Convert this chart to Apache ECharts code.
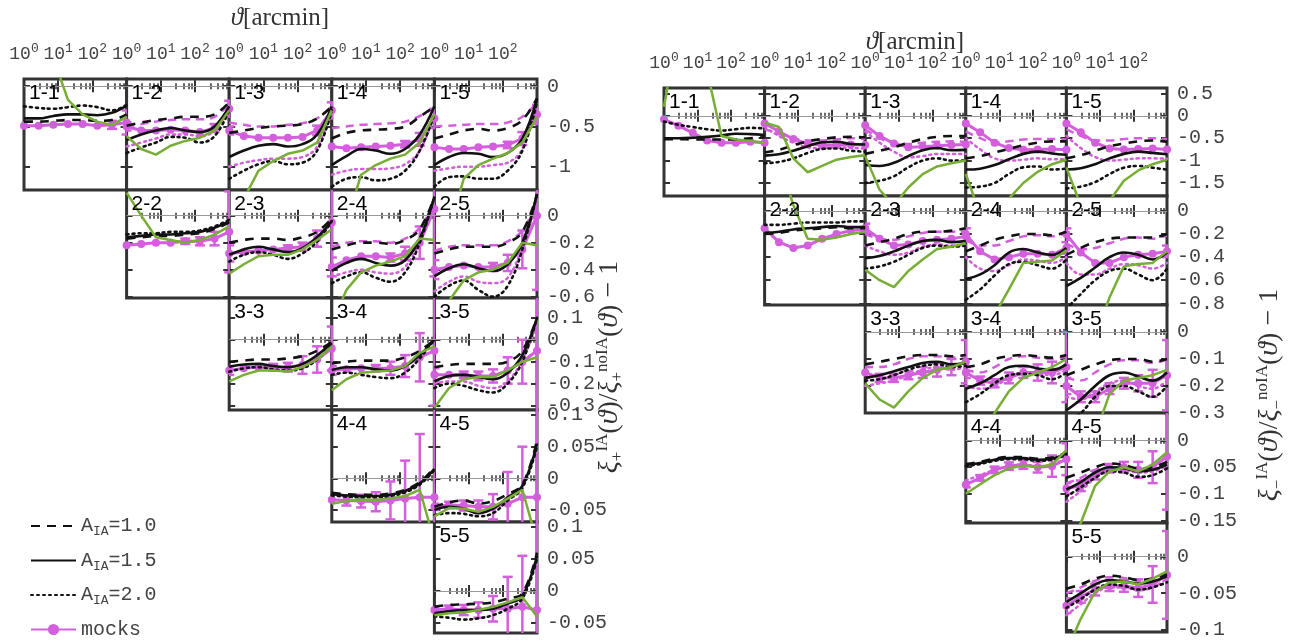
<!DOCTYPE html>
<html><head><meta charset="utf-8">
<script src="https://cdn.jsdelivr.net/npm/echarts@6/dist/echarts.min.js"></script>
<style>html,body{margin:0;padding:0;background:#fff}#c{width:1301px;height:644px}</style>
</head><body><div id="c"></div>
<script>
// ---------------- DATA ----------------
const theta = [1, 2.68, 7.2, 19.3, 51.8, 139, 373, 1000];
const xTickValues = [1, 10, 100];
const leftYTicks = [[0,-0.5,-1],[0,-0.2,-0.4,-0.6],[0.1,0,-0.1,-0.2,-0.3],[0.1,0.05,0,-0.05],[0.1,0.05,0,-0.05]];
const rightYTicks = [[0.5,0,-0.5,-1,-1.5],[0,-0.2,-0.4,-0.6,-0.8],[0,-0.1,-0.2,-0.3],[0,-0.05,-0.1,-0.15],[0,-0.05,-0.1]];
const leftYRange = [[-1.29,0.09],[-0.61,0.19],[-0.32,0.19],[-0.069,0.108],[-0.066,0.108]];
const rightYRange = [[-1.79,0.62],[-0.815,0.13],[-0.3,0.1],[-0.155,0.052],[-0.103,0.046]];
const legendNames = ['A_IA=1.0','A_IA=1.5','A_IA=2.0','mocks'];

// panel order: 1-1,1-2,1-3,1-4,1-5,2-2,2-3,2-4,2-5,3-3,3-4,3-5,4-4,4-5,5-5
const leftDash = [
 [-0.44,-0.44,-0.43,-0.42,-0.42,-0.43,-0.42,-0.35],
 [-0.49,-0.45,-0.42,-0.40,-0.38,-0.38,-0.35,-0.2],
 [-0.58,-0.55,-0.52,-0.5,-0.49,-0.47,-0.40,-0.25],
 [-0.65,-0.58,-0.55,-0.54,-0.53,-0.5,-0.38,-0.25],
 [-0.65,-0.6,-0.55,-0.53,-0.55,-0.52,-0.42,-0.15],
 [-0.17,-0.16,-0.15,-0.15,-0.14,-0.13,-0.10,-0.05],
 [-0.2,-0.18,-0.17,-0.17,-0.18,-0.16,-0.12,-0.02],
 [-0.25,-0.22,-0.2,-0.2,-0.21,-0.18,-0.1,0.14],
 [-0.28,-0.25,-0.23,-0.23,-0.23,-0.2,-0.12,0.16],
 [-0.1,-0.095,-0.09,-0.09,-0.085,-0.075,-0.05,-0.01],
 [-0.108,-0.1,-0.095,-0.095,-0.095,-0.08,-0.05,0.0],
 [-0.125,-0.115,-0.11,-0.11,-0.11,-0.1,-0.05,0.1],
 [-0.023,-0.025,-0.026,-0.026,-0.024,-0.018,-0.006,0.017],
 [-0.045,-0.038,-0.035,-0.04,-0.036,-0.025,-0.01,0.06],
 [-0.025,-0.022,-0.021,-0.02,-0.018,-0.012,-0.004,0.06]
];
const leftSolid = [
 [-0.40,-0.40,-0.37,-0.35,-0.35,-0.36,-0.33,-0.24],
 [-0.67,-0.6,-0.55,-0.52,-0.55,-0.57,-0.5,-0.25],
 [-0.88,-0.8,-0.74,-0.72,-0.75,-0.72,-0.6,-0.25],
 [-0.98,-0.87,-0.78,-0.8,-0.84,-0.78,-0.6,-0.25],
 [-0.98,-0.88,-0.83,-0.84,-0.88,-0.83,-0.65,-0.15],
 [-0.16,-0.15,-0.14,-0.14,-0.13,-0.12,-0.09,-0.04],
 [-0.29,-0.25,-0.23,-0.25,-0.27,-0.24,-0.16,-0.04],
 [-0.41,-0.35,-0.32,-0.35,-0.37,-0.33,-0.17,0.14],
 [-0.45,-0.39,-0.36,-0.39,-0.41,-0.36,-0.2,0.16],
 [-0.123,-0.113,-0.11,-0.12,-0.125,-0.11,-0.07,-0.015],
 [-0.138,-0.125,-0.125,-0.135,-0.14,-0.12,-0.07,0.0],
 [-0.19,-0.165,-0.16,-0.17,-0.18,-0.15,-0.07,0.1],
 [-0.025,-0.027,-0.028,-0.028,-0.026,-0.02,-0.008,0.015],
 [-0.05,-0.045,-0.048,-0.055,-0.048,-0.03,-0.012,0.055],
 [-0.035,-0.032,-0.03,-0.03,-0.028,-0.02,-0.008,0.055]
];
const leftDot = [
 [-0.25,-0.27,-0.28,-0.26,-0.24,-0.26,-0.3,-0.23],
 [-0.83,-0.76,-0.7,-0.63,-0.64,-0.7,-0.62,-0.3],
 [-1.15,-1.05,-0.97,-0.93,-0.97,-0.95,-0.8,-0.3],
 [-1.25,-1.15,-1.13,-1.17,-1.15,-1.05,-0.8,-0.35],
 [-1.25,-1.13,-1.12,-1.15,-1.15,-1.05,-0.8,-0.2],
 [-0.14,-0.13,-0.13,-0.12,-0.12,-0.11,-0.08,-0.03],
 [-0.34,-0.29,-0.27,-0.29,-0.32,-0.28,-0.19,-0.04],
 [-0.5,-0.45,-0.42,-0.46,-0.49,-0.42,-0.2,0.14],
 [-0.6,-0.52,-0.48,-0.55,-0.6,-0.52,-0.25,0.16],
 [-0.146,-0.13,-0.125,-0.135,-0.14,-0.13,-0.09,-0.02],
 [-0.16,-0.15,-0.16,-0.17,-0.175,-0.15,-0.085,0.0],
 [-0.22,-0.2,-0.21,-0.23,-0.24,-0.2,-0.1,0.1],
 [-0.027,-0.029,-0.03,-0.03,-0.028,-0.022,-0.01,0.013],
 [-0.058,-0.055,-0.056,-0.06,-0.055,-0.035,-0.015,0.05],
 [-0.04,-0.042,-0.045,-0.043,-0.038,-0.028,-0.012,0.05]
];
const leftMock = [
 [-0.49,-0.49,-0.48,-0.47,-0.47,-0.49,-0.48,-0.45],
 [-0.5,-0.55,-0.55,-0.54,-0.55,-0.57,-0.52,-0.28],
 [-0.55,-0.62,-0.64,-0.64,-0.64,-0.63,-0.55,-0.3],
 [-0.75,-0.77,-0.76,-0.75,-0.74,-0.72,-0.66,-0.4],
 [-0.76,-0.78,-0.78,-0.76,-0.75,-0.73,-0.65,-0.35],
 [-0.22,-0.21,-0.2,-0.2,-0.19,-0.19,-0.17,-0.12],
 [-0.28,-0.27,-0.26,-0.25,-0.24,-0.23,-0.17,-0.05],
 [-0.38,-0.33,-0.3,-0.3,-0.31,-0.28,-0.2,0.05],
 [-0.4,-0.38,-0.37,-0.38,-0.38,-0.35,-0.25,0.0],
 [-0.14,-0.13,-0.125,-0.125,-0.125,-0.115,-0.09,-0.04],
 [-0.14,-0.135,-0.13,-0.13,-0.13,-0.12,-0.08,-0.05],
 [-0.16,-0.16,-0.16,-0.165,-0.165,-0.14,-0.1,-0.05],
 [-0.034,-0.035,-0.036,-0.037,-0.035,-0.032,-0.03,-0.03],
 [-0.045,-0.042,-0.043,-0.045,-0.045,-0.04,-0.03,-0.03],
 [-0.03,-0.028,-0.03,-0.03,-0.028,-0.028,-0.025,-0.03]
];
const leftErr = [
 [0,0,0,0,0,0,0.05,0.15],
 [0.05,0,0,0,0,0,0.05,0.1],
 [0.05,0,0,0,0,0,0.06,0.1],
 [0,0,0,0,0,0.04,0.08,0.12],
 [0,0,0,0,0,0.04,0.08,0.12],
 [0,0,0,0,0.02,0.03,0.05,0.3],
 [0.06,0,0,0,0.02,0.03,0.06,0.4],
 [0.07,0,0,0,0.03,0.05,0.12,0.5],
 [0.07,0,0,0,0.03,0.06,0.14,0.55],
 [0.02,0,0,0.015,0.02,0.04,0.06,0.1],
 [0.02,0,0,0.015,0.03,0.05,0.11,0.25],
 [0.03,0,0.015,0.02,0.03,0.06,0.1,0.35],
 [0,0.008,0.01,0.015,0.03,0.06,0.1,0.15],
 [0.005,0.005,0.008,0.01,0.02,0.05,0.08,0.14],
 [0.004,0.005,0.008,0.012,0.02,0.05,0.08,0.15]
];
const leftMockDash = [
 null,
 [-0.5,-0.47,-0.44,-0.42,-0.41,-0.41,-0.38,-0.22],
 [-0.45,-0.48,-0.5,-0.5,-0.48,-0.46,-0.4,-0.25],
 [-0.52,-0.5,-0.48,-0.47,-0.46,-0.44,-0.37,-0.27],
 [-0.5,-0.49,-0.48,-0.47,-0.47,-0.45,-0.38,-0.2],
 null, null,
 [-0.23,-0.2,-0.19,-0.19,-0.2,-0.17,-0.09,0.1],
 [-0.26,-0.23,-0.22,-0.22,-0.22,-0.19,-0.11,0.1],
 null, null, null, null, null, null
];
const leftMockDot = [
 null,
 [-0.75,-0.7,-0.65,-0.6,-0.6,-0.62,-0.55,-0.28],
 [-1.0,-0.95,-0.92,-0.9,-0.9,-0.88,-0.75,-0.3],
 [-1.1,-1.05,-1.03,-1.03,-1.02,-0.97,-0.8,-0.35],
 [-1.05,-1.02,-1.0,-1.0,-0.98,-0.95,-0.78,-0.2],
 null, null,
 [-0.45,-0.42,-0.4,-0.42,-0.43,-0.38,-0.18,0.1],
 [-0.56,-0.49,-0.45,-0.49,-0.5,-0.46,-0.23,0.1],
 null, null,
 [-0.2,-0.19,-0.19,-0.21,-0.22,-0.19,-0.09,0.07],
 null, null, null
];
const leftGreen = [
 [3,1.2,0.35,-0.17,-0.35,-0.44,-0.48,-0.38],
 [-0.62,-0.78,-0.85,-0.74,-0.68,-0.64,-0.55,-0.3],
 [-2.0,-1.4,-1.05,-0.93,-0.84,-0.8,-0.7,-0.3],
 [-2,-1.7,-1.1,-0.98,-0.9,-0.85,-0.7,-0.35],
 [-2,-1.8,-1.15,-0.98,-0.9,-0.83,-0.7,-0.38],
 [0.17,0.0,-0.16,-0.18,-0.2,-0.18,-0.14,-0.08],
 [-0.43,-0.36,-0.3,-0.29,-0.29,-0.25,-0.18,-0.1],
 [-0.8,-0.55,-0.42,-0.37,-0.34,-0.3,-0.17,-0.18],
 [-0.9,-0.63,-0.48,-0.42,-0.4,-0.35,-0.2,-0.22],
 [-0.19,-0.16,-0.14,-0.14,-0.145,-0.125,-0.09,-0.03],
 [-0.23,-0.18,-0.15,-0.145,-0.14,-0.12,-0.06,-0.03],
 [-0.31,-0.22,-0.18,-0.17,-0.17,-0.14,-0.1,-0.08],
 [-0.04,-0.036,-0.034,-0.034,-0.032,-0.028,-0.018,-0.1],
 [-0.06,-0.047,-0.048,-0.053,-0.045,-0.032,-0.018,-0.1],
 [-0.038,-0.035,-0.034,-0.03,-0.025,-0.018,-0.01,-0.04]
];

const rightDash = [
 [-0.52,-0.52,-0.53,-0.53,-0.53,-0.53,-0.5,-0.48],
 [-0.82,-0.76,-0.66,-0.57,-0.52,-0.48,-0.47,-0.48],
 [-0.85,-0.78,-0.7,-0.6,-0.52,-0.47,-0.45,-0.45],
 [-0.95,-0.9,-0.82,-0.74,-0.66,-0.6,-0.57,-0.57],
 [-0.95,-0.88,-0.78,-0.68,-0.62,-0.57,-0.55,-0.58],
 [-0.2,-0.19,-0.17,-0.16,-0.15,-0.14,-0.15,-0.15],
 [-0.3,-0.27,-0.24,-0.2,-0.18,-0.18,-0.17,-0.15],
 [-0.35,-0.3,-0.25,-0.22,-0.2,-0.2,-0.21,-0.18],
 [-0.38,-0.32,-0.27,-0.24,-0.23,-0.23,-0.23,-0.2],
 [-0.12,-0.11,-0.1,-0.09,-0.085,-0.085,-0.09,-0.085],
 [-0.13,-0.12,-0.1,-0.09,-0.085,-0.09,-0.095,-0.085],
 [-0.16,-0.14,-0.12,-0.105,-0.1,-0.1,-0.11,-0.1],
 [-0.044,-0.04,-0.034,-0.031,-0.031,-0.034,-0.032,-0.022],
 [-0.07,-0.06,-0.05,-0.043,-0.046,-0.052,-0.05,-0.04],
 [-0.044,-0.038,-0.03,-0.026,-0.028,-0.032,-0.03,-0.024]
];
const rightSolid = [
 [-0.5,-0.5,-0.49,-0.47,-0.44,-0.4,-0.41,-0.43],
 [-0.89,-0.86,-0.78,-0.68,-0.59,-0.58,-0.63,-0.64],
 [-1.1,-1.12,-1.05,-0.9,-0.77,-0.72,-0.77,-0.76],
 [-1.2,-1.18,-1.1,-0.97,-0.85,-0.8,-0.84,-0.87],
 [-1.2,-1.17,-1.08,-0.95,-0.85,-0.8,-0.83,-0.86],
 [-0.19,-0.18,-0.16,-0.15,-0.14,-0.13,-0.14,-0.14],
 [-0.41,-0.39,-0.35,-0.3,-0.26,-0.25,-0.27,-0.26],
 [-0.59,-0.55,-0.47,-0.36,-0.33,-0.36,-0.38,-0.32],
 [-0.65,-0.58,-0.49,-0.4,-0.36,-0.38,-0.42,-0.36],
 [-0.17,-0.16,-0.145,-0.13,-0.115,-0.11,-0.12,-0.115],
 [-0.21,-0.19,-0.16,-0.13,-0.125,-0.135,-0.14,-0.12],
 [-0.29,-0.25,-0.2,-0.16,-0.15,-0.165,-0.18,-0.15],
 [-0.046,-0.042,-0.036,-0.033,-0.033,-0.036,-0.034,-0.024],
 [-0.092,-0.078,-0.06,-0.05,-0.052,-0.058,-0.055,-0.045],
 [-0.062,-0.05,-0.038,-0.032,-0.034,-0.037,-0.034,-0.027]
];
const rightDot = [
 [-0.13,-0.2,-0.25,-0.3,-0.33,-0.3,-0.27,-0.28],
 [-1.06,-1.03,-0.95,-0.83,-0.74,-0.73,-0.78,-0.8],
 [-1.5,-1.45,-1.35,-1.15,-1.0,-0.95,-1.0,-1.0],
 [-1.6,-1.58,-1.5,-1.3,-1.15,-1.13,-1.2,-1.18],
 [-1.62,-1.58,-1.48,-1.3,-1.16,-1.12,-1.16,-1.2],
 [-0.12,-0.12,-0.11,-0.1,-0.1,-0.1,-0.09,-0.09],
 [-0.5,-0.48,-0.44,-0.38,-0.32,-0.3,-0.31,-0.3],
 [-0.77,-0.68,-0.56,-0.46,-0.44,-0.47,-0.5,-0.42],
 [-0.85,-0.72,-0.6,-0.52,-0.5,-0.55,-0.6,-0.5],
 [-0.18,-0.175,-0.16,-0.14,-0.125,-0.12,-0.13,-0.125],
 [-0.26,-0.23,-0.19,-0.16,-0.155,-0.16,-0.175,-0.15],
 [-0.33,-0.3,-0.24,-0.2,-0.2,-0.22,-0.24,-0.2],
 [-0.048,-0.044,-0.038,-0.035,-0.035,-0.038,-0.036,-0.026],
 [-0.105,-0.088,-0.07,-0.058,-0.06,-0.068,-0.065,-0.052],
 [-0.07,-0.058,-0.045,-0.038,-0.04,-0.045,-0.042,-0.035]
];
const rightMock = [
 [-0.08,-0.22,-0.38,-0.55,-0.6,-0.6,-0.58,-0.6],
 [-0.17,-0.35,-0.52,-0.62,-0.66,-0.66,-0.64,-0.65],
 [-0.21,-0.45,-0.62,-0.7,-0.69,-0.67,-0.65,-0.64],
 [-0.17,-0.37,-0.6,-0.72,-0.76,-0.75,-0.74,-0.76],
 [-0.17,-0.37,-0.6,-0.73,-0.75,-0.74,-0.73,-0.75],
 [-0.15,-0.27,-0.32,-0.3,-0.24,-0.2,-0.17,-0.16],
 [-0.15,-0.24,-0.3,-0.29,-0.26,-0.25,-0.24,-0.22],
 [-0.2,-0.35,-0.42,-0.4,-0.37,-0.37,-0.38,-0.32],
 [-0.2,-0.36,-0.45,-0.45,-0.4,-0.38,-0.37,-0.35],
 [-0.15,-0.17,-0.17,-0.16,-0.15,-0.14,-0.13,-0.11],
 [-0.15,-0.18,-0.19,-0.17,-0.15,-0.15,-0.15,-0.13],
 [-0.2,-0.24,-0.24,-0.21,-0.19,-0.19,-0.19,-0.16],
 [-0.083,-0.07,-0.055,-0.048,-0.045,-0.05,-0.048,-0.035],
 [-0.09,-0.085,-0.065,-0.052,-0.05,-0.055,-0.05,-0.03],
 [-0.067,-0.055,-0.045,-0.04,-0.04,-0.043,-0.038,-0.025]
];
const rightErr = [
 [0,0,0,0,0,0,0,0],[0,0,0,0,0,0,0,0],[0,0,0,0,0,0,0,0],[0,0,0,0,0,0,0,0],[0,0,0,0,0,0,0,0],
 [0,0,0,0,0,0,0,0],
 [0.04,0,0,0,0,0,0,0.04],
 [0.05,0,0,0,0,0,0,0.05],
 [0.05,0,0,0,0,0,0,0.05],
 [0.02,0.015,0.015,0.015,0.02,0.025,0.03,0.08],
 [0.02,0.015,0.015,0.02,0.02,0.03,0.04,0.13],
 [0.03,0.02,0.02,0.02,0.02,0.03,0.05,0.13],
 [0.005,0.005,0.006,0.007,0.008,0.01,0.02,0.03],
 [0.01,0.01,0.008,0.008,0.01,0.015,0.03,0.1],
 [0.01,0.008,0.008,0.007,0.008,0.012,0.025,0.06]
];
const rightMockDash = [
 null,
 [-0.3,-0.4,-0.5,-0.55,-0.55,-0.53,-0.5,-0.52],
 [-0.3,-0.5,-0.6,-0.63,-0.6,-0.58,-0.57,-0.58],
 [-0.35,-0.5,-0.6,-0.57,-0.53,-0.52,-0.52,-0.53],
 [-0.3,-0.45,-0.55,-0.55,-0.52,-0.5,-0.5,-0.52],
 null,
 [-0.2,-0.24,-0.25,-0.22,-0.19,-0.18,-0.18,-0.16],
 [-0.25,-0.3,-0.3,-0.26,-0.22,-0.21,-0.22,-0.19],
 [-0.28,-0.33,-0.32,-0.28,-0.24,-0.23,-0.24,-0.21],
 [-0.13,-0.13,-0.12,-0.1,-0.09,-0.09,-0.095,-0.09],
 [-0.14,-0.15,-0.13,-0.1,-0.09,-0.095,-0.1,-0.09],
 [-0.17,-0.18,-0.15,-0.12,-0.105,-0.105,-0.115,-0.1],
 null,
 [-0.08,-0.07,-0.055,-0.045,-0.047,-0.053,-0.05,-0.04],
 [-0.05,-0.042,-0.033,-0.028,-0.029,-0.033,-0.031,-0.025]
];
const rightMockDot = [
 null,
 [-0.25,-0.45,-0.6,-0.7,-0.72,-0.7,-0.72,-0.73],
 [-0.35,-0.6,-0.8,-0.93,-0.9,-0.85,-0.85,-0.85],
 [-0.5,-0.75,-0.95,-1.0,-0.98,-0.95,-0.97,-0.97],
 [-0.45,-0.72,-0.92,-1.0,-0.98,-0.95,-0.95,-0.96],
 null,
 [-0.3,-0.35,-0.38,-0.36,-0.31,-0.29,-0.3,-0.3],
 [-0.4,-0.5,-0.52,-0.47,-0.42,-0.43,-0.45,-0.4],
 [-0.45,-0.55,-0.55,-0.5,-0.46,-0.47,-0.5,-0.45],
 [-0.2,-0.19,-0.18,-0.16,-0.14,-0.13,-0.14,-0.13],
 [-0.2,-0.21,-0.2,-0.17,-0.15,-0.155,-0.16,-0.14],
 [-0.24,-0.25,-0.22,-0.19,-0.18,-0.2,-0.21,-0.18],
 [-0.075,-0.065,-0.055,-0.048,-0.045,-0.048,-0.045,-0.032],
 [-0.115,-0.095,-0.07,-0.055,-0.055,-0.06,-0.058,-0.048],
 [-0.08,-0.065,-0.05,-0.042,-0.042,-0.046,-0.042,-0.03]
];
const rightGreen = [
 [0.2,2.0,2.0,1.0,-0.45,-0.53,-0.56,-0.6],
 [-0.15,-0.25,-0.95,-1.26,-1.12,-0.98,-0.92,-0.88],
 [-0.9,-1.65,-2.0,-1.6,-1.3,-1.13,-1.06,-1.0],
 [-1.3,-2.2,-2.5,-1.85,-1.5,-1.25,-1.08,-0.98],
 [-1.15,-2.0,-2.5,-1.9,-1.45,-1.22,-1.08,-0.98],
 [0.8,0.45,0.05,-0.24,-0.25,-0.23,-0.2,-0.18],
 [-0.51,-0.6,-0.66,-0.52,-0.42,-0.33,-0.31,-0.28],
 [-1.6,-1.2,-0.9,-0.68,-0.45,-0.44,-0.43,-0.34],
 [-2,-1.5,-1.1,-0.75,-0.48,-0.46,-0.45,-0.35],
 [-0.19,-0.25,-0.28,-0.22,-0.17,-0.14,-0.13,-0.11],
 [-0.5,-0.4,-0.3,-0.22,-0.17,-0.15,-0.13,-0.1],
 [-0.6,-0.5,-0.38,-0.23,-0.18,-0.17,-0.16,-0.14],
 [-0.1,-0.082,-0.065,-0.052,-0.047,-0.05,-0.045,-0.018],
 [-0.2,-0.155,-0.085,-0.058,-0.05,-0.058,-0.045,-0.022],
 [-0.13,-0.085,-0.048,-0.035,-0.034,-0.038,-0.03,-0.02]
];

// ---------------- STYLE / LAYOUT ----------------
const MAG = '#d35fdc', GREEN = '#78ad36', BLACK = '#111', FRAME = '#333', LAB = '#444';
const MONO = 'Liberation Mono';
const LAYOUT = {
  left:  {x0: 24,  w: 102.6, tops: [79,190,298,410,522], bots: [190,298,410,522,633]},
  right: {x0: 664, w: 100.6, tops: [88,196,305,413,523], bots: [196,305,413,523,632]}
};

const grids = [], xAxes = [], yAxes = [], series = [], graphics = [];

function errRender(params, api) {
  const x = api.value(0), lo = api.value(1), hi = api.value(2);
  const a = api.coord([x, hi]), b = api.coord([x, lo]);
  const w = 5, st = {stroke: MAG, lineWidth: 2.5};
  return {type: 'group', children: [
    {type: 'line', shape: {x1: a[0], y1: a[1], x2: b[0], y2: b[1]}, style: st},
    {type: 'line', shape: {x1: a[0]-w, y1: a[1], x2: a[0]+w, y2: a[1]}, style: st},
    {type: 'line', shape: {x1: b[0]-w, y1: b[1], x2: b[0]+w, y2: b[1]}, style: st}
  ]};
}

function buildSide(cfg, D, yRange, yTicks) {
  let k = 0;
  for (let i = 0; i < 5; i++) for (let j = i; j < 5; j++) {
    const g = grids.length;
    const x = cfg.x0 + j * cfg.w, top = cfg.tops[i], h = cfg.bots[i] - top;
    grids.push({left: x, top: top, width: cfg.w, height: h, show: true,
      borderColor: FRAME, borderWidth: 3, backgroundColor: '#fff'});
    const xi = xAxes.length;
    const xBase = {gridIndex: g, type: 'log', logBase: 10, min: 1, max: 1000,
      axisLine: {show: false}, splitLine: {show: false},
      axisTick: {inside: true, length: 6, lineStyle: {color: FRAME, width: 2}},
      minorTick: {show: true, length: 3, splitNumber: 5, lineStyle: {color: FRAME, width: 1.5}}};
    xAxes.push(Object.assign({}, xBase, {position: 'bottom', axisLabel: {show: false}}));
    xAxes.push(Object.assign({}, xBase, {position: 'top',
      axisLabel: i === 0 ? {show: true, margin: 12, color: LAB, fontFamily: MONO, hideOverlap: false,
          formatter: v => { const e = Math.round(Math.log10(v)); return e <= 2 ? '{b|10}{s|' + e + '}' : ''; },
          rich: {b: {fontFamily: MONO, fontSize: 18, color: LAB},
                 s: {fontFamily: MONO, fontSize: 13, color: LAB, padding: [0, 0, 12, 0]}}} : {show: false}}));
    const yi = yAxes.length;
    const yBase = {gridIndex: g, type: 'value', min: yRange[i][0], max: yRange[i][1],
      axisLine: {show: false}, splitLine: {show: false},
      axisTick: {inside: true, length: 6, customValues: yTicks[i], lineStyle: {color: FRAME, width: 2}}};
    yAxes.push(Object.assign({}, yBase, {position: 'left', axisLabel: {show: false, customValues: yTicks[i]}}));
    yAxes.push(Object.assign({}, yBase, {position: 'right',
      axisLabel: j === 4 ? {show: true, customValues: yTicks[i], margin: 10, color: LAB, fontFamily: MONO, fontSize: 20,
          formatter: v => String(v)} : {show: false, customValues: yTicks[i]}}));
    const pts = arr => arr.map((v, n) => [theta[n], v]);
    const base = {xAxisIndex: xi, yAxisIndex: yi, symbol: 'none', silent: true};

    // mocks + error bars
    series.push(Object.assign({}, base, {type: 'line', name: 'mocks', data: pts(D.mock[k]),
      symbol: 'circle', symbolSize: 8, itemStyle: {color: MAG}, lineStyle: {color: MAG, width: 3}, z: 2}));
    const ed = [];
    D.err[k].forEach((e, n) => { if (e > 0) ed.push([theta[n], D.mock[k][n] - e, D.mock[k][n] + e]); });
    if (ed.length) series.push({type: 'custom', name: 'err', xAxisIndex: xi, yAxisIndex: yi, data: ed,
      renderItem: errRender, encode: {x: 0, y: [1, 2]}, clip: true, z: 2, silent: true});
    if (D.mdash[k]) series.push(Object.assign({}, base, {type: 'line', name: 'mockDash', data: pts(D.mdash[k]),
      smooth: 0.4, lineStyle: {color: MAG, width: 2.5, type: [8, 6]}, z: 2}));
    if (D.mdot[k]) series.push(Object.assign({}, base, {type: 'line', name: 'mockDot', data: pts(D.mdot[k]),
      smooth: 0.4, lineStyle: {color: MAG, width: 2.5, type: [2, 4], cap: 'round'}, z: 2}));
    // theory
    series.push(Object.assign({}, base, {type: 'line', name: 'A_IA=1.0', data: pts(D.dash[k]), smooth: 0.4,
      itemStyle: {color: BLACK}, lineStyle: {color: BLACK, width: 2.6, type: [9, 7]}, z: 3}));
    series.push(Object.assign({}, base, {type: 'line', name: 'A_IA=1.5', data: pts(D.solid[k]), smooth: 0.4,
      itemStyle: {color: BLACK}, lineStyle: {color: BLACK, width: 2.6}, z: 3,
      markLine: {silent: true, symbol: 'none', label: {show: false}, animation: false,
        lineStyle: {color: '#999', width: 1, type: 'solid'}, data: [{yAxis: 0}]}}));
    series.push(Object.assign({}, base, {type: 'line', name: 'A_IA=2.0', data: pts(D.dot[k]), smooth: 0.4,
      itemStyle: {color: BLACK}, lineStyle: {color: BLACK, width: 2.6, type: [2, 4], cap: 'round'}, z: 3}));
    series.push(Object.assign({}, base, {type: 'line', name: 'green', data: pts(D.green[k]),
      lineStyle: {color: GREEN, width: 2.5}, z: 4}));

    graphics.push({type: 'text', x: x + 5, y: top + 4, z: 100,
      style: {text: (i + 1) + '-' + (j + 1), fontFamily: 'Liberation Sans', fontSize: 21, fill: '#000'}});
    k++;
  }
}

buildSide(LAYOUT.left, {dash: leftDash, solid: leftSolid, dot: leftDot, mock: leftMock, err: leftErr,
  mdash: leftMockDash, mdot: leftMockDot, green: leftGreen}, leftYRange, leftYTicks);
buildSide(LAYOUT.right, {dash: rightDash, solid: rightSolid, dot: rightDot, mock: rightMock, err: rightErr,
  mdash: rightMockDash, mdot: rightMockDot, green: rightGreen}, rightYRange, rightYTicks);

// titles & axis names
const serif = 'Liberation Serif';
function titleText(cx, cy) {
  return {type: 'text', x: cx, y: cy, z: 100, style: {text: '{i|ϑ}{r|[arcmin]}', align: 'center', verticalAlign: 'middle',
    rich: {i: {fontFamily: serif, fontStyle: 'italic', fontSize: 25, fill: '#333'}, r: {fontFamily: serif, fontSize: 25, fill: '#333'}}}};
}
graphics.push(titleText(280, 18));
graphics.push(titleText(915, 42));
function yName(cx, cy, sub) {
  const rs = {fontFamily: serif, fontSize: 28, fill: '#333'};
  return {type: 'text', x: cx, y: cy, rotation: Math.PI / 2, z: 100,
    style: {text: '{i|ξ}{sb|' + sub + '}{sp|IA}{r|(}{i|ϑ}{r|)/}{i|ξ}{sb|' + sub + '}{sp|noIA}{r|(}{i|ϑ}{r|) − 1}',
      align: 'center', verticalAlign: 'middle',
      rich: {i: Object.assign({}, rs, {fontStyle: 'italic'}), r: rs,
        sb: {fontFamily: serif, fontSize: 17, fill: '#333', padding: [16, 0, 0, 0]},
        sp: {fontFamily: serif, fontSize: 17, fill: '#333', padding: [0, 0, 14, 0]}}}};
}
graphics.push(yName(610, 367, '+'));
graphics.push(yName(1270, 395, '−'));

const option = {
  animation: false,
  backgroundColor: '#fff',
  grid: grids, xAxis: xAxes, yAxis: yAxes, series: series,
  legend: {
    data: [
      {name: legendNames[0], itemStyle: {opacity: 0}},
      {name: legendNames[1], itemStyle: {opacity: 0}},
      {name: legendNames[2], itemStyle: {opacity: 0}},
      {name: legendNames[3]}
    ],
    orient: 'vertical', left: 25, top: 511, height: 133, itemWidth: 45, itemHeight: 14, itemGap: 12,
    selectedMode: false,
    formatter: n => n === 'mocks' ? '{t|mocks}' : '{t|A}{s|IA}{t|=' + n.split('=')[1] + '}',
    textStyle: {fontFamily: MONO, fontSize: 20, color: LAB,
      rich: {t: {fontFamily: MONO, fontSize: 20, color: LAB}, s: {fontFamily: MONO, fontSize: 13, color: LAB, padding: [12, 0, 0, 0]}}}
  },
  graphic: {elements: graphics}
};
const chart = echarts.init(document.getElementById('c'));
chart.setOption(option);
</script></body></html>
